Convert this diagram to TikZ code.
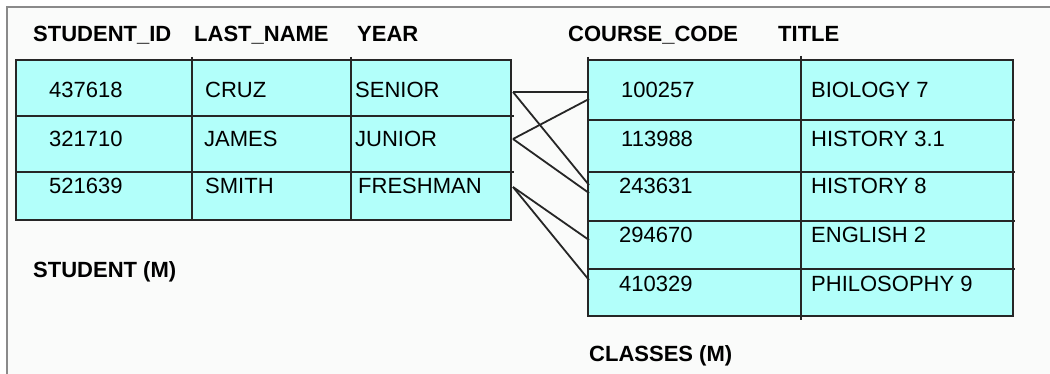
\documentclass[tikz,border=0pt]{standalone}
\usepackage{fontspec}
\setmainfont{Liberation Sans}
\definecolor{cellfill}{RGB}{178,255,250}
\definecolor{bgfill}{RGB}{250,251,250}
\definecolor{framegray}{RGB}{138,138,138}
\begin{document}
\begin{tikzpicture}[x=1pt,y=-1pt,
  txt/.style={anchor=base west,inner sep=0pt,font=\fontsize{22}{24}\selectfont},
  hdr/.style={anchor=base west,inner sep=0pt,font=\fontsize{22}{24}\selectfont\bfseries},
  grid/.style={line width=1.8pt,black!85},
  link/.style={line width=1.8pt,black!85}]
\useasboundingbox (0,0) rectangle (1050,374);
\fill[white] (0,0) rectangle (1050,374);
\fill[bgfill] (7,7) rectangle (1050,374);
\draw[framegray,line width=2pt] (7,374) -- (7,7) -- (1050,7);

% STUDENT table
\fill[cellfill] (16,60) rectangle (511,220);
\draw[grid] (16,60) rectangle (511,220);
\draw[grid] (16,116) -- (514,116);
\draw[grid] (16,172) -- (514,172);
\draw[grid] (192,57) -- (192,220);
\draw[grid] (351,57) -- (351,220);

\node[hdr] (hSid) at (33,42) {STUDENT\_ID};
\node[hdr] (hLn) at (194,42) {LAST\_NAME};
\node[hdr] (hYr) at (357,42) {YEAR};

\node[txt] (s1id) at (49,98) {437618};
\node[txt] (s2id) at (49,147) {321710};
\node[txt] (s3id) at (49,194) {521639};
\node[txt] (s1ln) at (205,98) {CRUZ};
\node[txt] (s2ln) at (204,147) {JAMES};
\node[txt] (s3ln) at (205,194) {SMITH};
\node[txt] (s1yr) at (355,98) {SENIOR};
\node[txt] (s2yr) at (355,147) {JUNIOR};
\node[txt] (s3yr) at (358,194) {FRESHMAN};

\node[hdr] (sTitle) at (33,277) {STUDENT (M)};

% CLASSES table
\fill[cellfill] (588,60) rectangle (1013,316);
\draw[grid] (588,60) rectangle (1013,316);
\draw[grid] (588,57) -- (588,316);
\draw[grid] (588,120) -- (1015,120);
\draw[grid] (588,172) -- (1015,172);
\draw[grid] (588,221) -- (1015,221);
\draw[grid] (588,269) -- (1015,269);
\draw[grid] (801,56) -- (801,320);

\node[hdr] (hCc) at (568,42) {COURSE\_CODE};
\node[hdr] (hTi) at (778,42) {TITLE};

\node[txt] (c1) at (621,98) {100257};
\node[txt] (c2) at (621,147) {113988};
\node[txt] (c3) at (619,194) {243631};
\node[txt] (c4) at (619,243) {294670};
\node[txt] (c5) at (619,291) {410329};
\node[txt] (t1) at (811,98) {BIOLOGY 7};
\node[txt] (t2) at (811,147) {HISTORY 3.1};
\node[txt] (t3) at (811,194) {HISTORY 8};
\node[txt] (t4) at (811,243) {ENGLISH 2};
\node[txt] (t5) at (811,291) {PHILOSOPHY 9};

\node[hdr] (cTitle) at (589,361) {CLASSES (M)};

% connector end points
\coordinate (pSen) at (513,92);
\coordinate (pJun) at (513,139);
\coordinate (pFre) at (513,187);
\coordinate (q1a) at (589,92);
\coordinate (q1b) at (589,99);
\coordinate (q3a) at (589,185);
\coordinate (q3b) at (589,193);
\coordinate (q4) at (589,240);
\coordinate (q5) at (589,280);

\draw[link] (pSen) -- (q1a);
\draw[link] (pSen) -- (q3a);
\draw[link] (pJun) -- (q1b);
\draw[link] (pJun) -- (q3b);
\draw[link] (pFre) -- (q4);
\draw[link] (pFre) -- (q5);
\end{tikzpicture}
\end{document}
